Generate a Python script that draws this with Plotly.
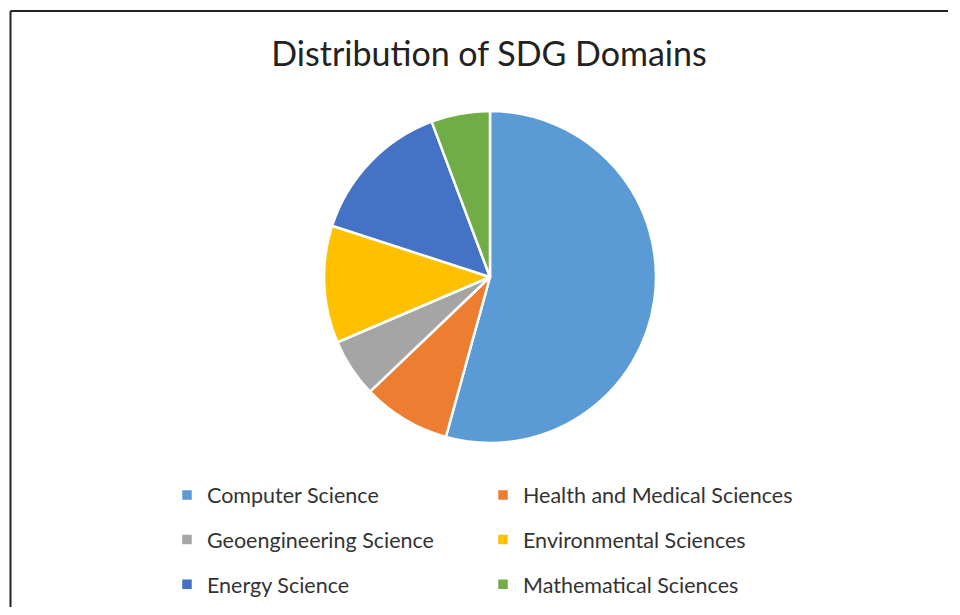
import plotly.graph_objects as go

categories = ["Computer Science", "Health and Medical Sciences", "Geoengineering Science",
              "Environmental Sciences", "Energy Science", "Mathematical Sciences"]
values = [19, 3, 2, 4, 5, 2]
colors = ["#5B9BD5", "#ED7D31", "#A5A5A5", "#FFC000", "#4472C4", "#70AD47"]

# page body has an 8px margin; figure sized to fit the 960x615 window
OFF = 8
W, H = 940, 599
MR = 196                      # right margin narrows the plot area so the legend wraps to 2 columns
PW = W - MR
def px(x): return (x - OFF) / PW
def py(y): return 1 - (y - OFF) / H

# legend font sets the row spacing; the visible label text is smaller
labels = [f"<span style='font-size:21.5px;baseline-shift:4.5px'>{c}</span>" for c in categories]

fig = go.Figure(go.Pie(
    labels=labels, values=values, sort=False, direction="clockwise", rotation=0,
    marker=dict(colors=colors, line=dict(color="white", width=2.5)),
    textinfo="none", hoverinfo="label+value+percent",
    domain=dict(x=[px(324), px(656)], y=[py(443), py(111)]),
))

border = dict(color="#222222", width=2)
fig.update_layout(
    width=W, height=H,
    margin=dict(l=0, r=MR, t=0, b=0, autoexpand=False),
    paper_bgcolor="white", plot_bgcolor="white",
    font=dict(family="Lato, Open Sans, sans-serif", color="#333333"),
    title=dict(text="Distribution of SDG Domains", xref="container", x=(489 - OFF) / W,
               xanchor="center", yref="container", y=py(54), yanchor="middle",
               font=dict(size=34, color="#222222", family="Lato, Open Sans, sans-serif")),
    showlegend=True,
    legend=dict(orientation="h", x=px(167), xanchor="left", y=py(467.7), yanchor="top",
                entrywidth=271, entrywidthmode="pixels", traceorder="normal",
                font=dict(size=32, color="#333333"), itemwidth=30,
                tracegroupgap=0, bgcolor="rgba(0,0,0,0)"),
    shapes=[
        dict(type="line", xref="paper", yref="paper",
             x0=px(10.5), x1=px(10.5), y0=-0.1, y1=py(11), line=border),
        dict(type="line", xref="paper", yref="paper",
             x0=px(10.5), x1=1.4, y0=py(11), y1=py(11), line=border),
    ],
)

fig.write_html("out.html")
